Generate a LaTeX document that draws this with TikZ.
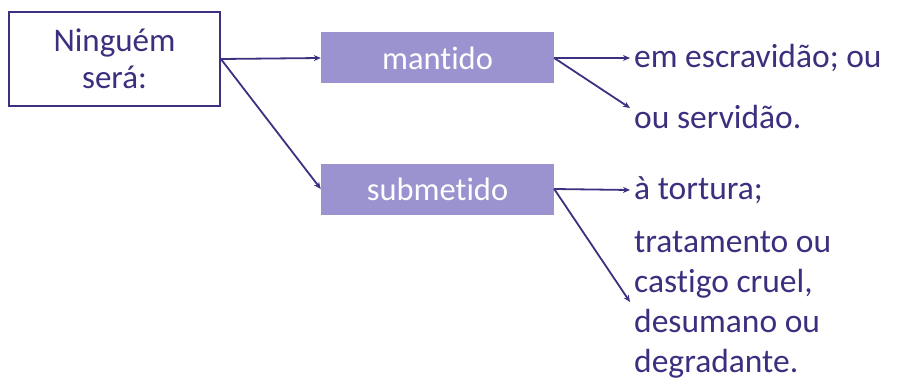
\documentclass[tikz,border=0pt]{standalone}
\usepackage{fontspec}
\setmainfont[Ligatures={NoCommon}]{Carlito}
\usetikzlibrary{arrows.meta}
\definecolor{ink}{HTML}{3B2F7E}
\definecolor{boxfill}{HTML}{9A93CF}
\definecolor{line}{HTML}{3A3180}
\tikzset{
  conn/.style={draw=line, line width=1.8pt, -{Stealth[length=7pt,width=6pt]}},
  mainbox/.style={draw=line, line width=1.8pt, fill=white, minimum width=211pt, minimum height=94pt, align=center, text=ink, font=\fontsize{33}{37}\selectfont, inner sep=0pt},
  verbbox/.style={fill=boxfill, minimum width=233pt, minimum height=51pt, text=white, font=\fontsize{32.5}{36}\selectfont, inner sep=0pt},
  item/.style={anchor=west, text=ink, font=\fontsize{33.5}{40}\selectfont, inner sep=0pt, align=left}
}
\begin{document}
\begin{tikzpicture}[x=1pt,y=-1pt]
\useasboundingbox (0,0) rectangle (920,385);
\node[mainbox] (n) at (114.5,59) {Ninguém\\será:};
\node[verbbox] (m) at (437.5,58) {mantido};
\node[verbbox] (s) at (437.5,189) {submetido};
\node[item] (t1) at (634,58) {em escravidão; ou};
\node[item] (t2) at (634,117) {ou servidão.};
\node[item] (t3) at (634,190) {à tortura;};
\node[item] (t4) at (634,305) {tratamento ou\\castigo cruel,\\desumano ou\\degradante.};
\coordinate (e1) at (630,58);
\coordinate (e2) at (630,108);
\coordinate (e3) at (630,190);
\coordinate (e4) at (630,302);
\draw[conn] (n.east) -- (m.west);
\draw[conn] (n.east) -- (s.west);
\draw[conn] (m.east) -- (e1);
\draw[conn] (m.east) -- (e2);
\draw[conn] (s.east) -- (e3);
\draw[conn] (s.east) -- (e4);
\end{tikzpicture}
\end{document}
